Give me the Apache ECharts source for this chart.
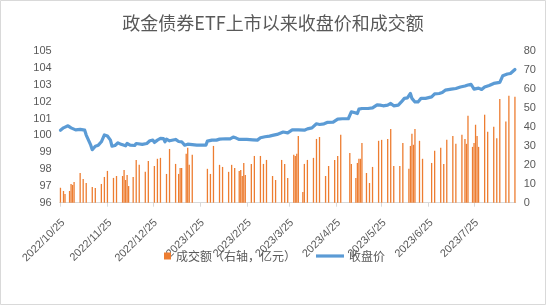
<!DOCTYPE html>
<html><head><meta charset="utf-8">
<script src="https://cdn.jsdelivr.net/npm/echarts@6/dist/echarts.min.js"></script>
<style>html,body{margin:0;padding:0;background:#fff}#c{width:546px;height:305px}</style>
</head><body><div id="c"></div>
<script>
const titleText = '政金债券ETF上市以来收盘价和成交额';
const volumeName = '成交额（右轴，亿元）';
const priceName = '收盘价';
const axisStart = [2022, 10, 25];
const axisDays = 301;
const xTickLabels = ['2022/10/25','2022/11/25','2022/12/25','2023/1/25','2023/2/25','2023/3/25','2023/4/25','2023/5/25','2023/6/25','2023/7/25'];
const leftTicks = { min: 96, max: 105, interval: 1 };
const rightTicks = { min: 0, max: 80, interval: 10 };

const volumeDates = ['2022/10/25','2022/10/27','2022/10/28','2022/10/31','2022/11/1','2022/11/2','2022/11/3','2022/11/7','2022/11/9','2022/11/11','2022/11/15','2022/11/17','2022/11/21','2022/11/23','2022/11/25','2022/11/29','2022/12/1','2022/12/5','2022/12/6','2022/12/7','2022/12/8','2022/12/9','2022/12/12','2022/12/14','2022/12/16','2022/12/20','2022/12/22','2022/12/26','2022/12/28','2022/12/30','2023/1/3','2023/1/5','2023/1/9','2023/1/11','2023/1/12','2023/1/13','2023/1/16','2023/1/17','2023/1/18','2023/1/20','2023/1/30','2023/2/1','2023/2/3','2023/2/7','2023/2/9','2023/2/13','2023/2/15','2023/2/17','2023/2/20','2023/2/21','2023/2/22','2023/2/23','2023/2/24','2023/2/28','2023/3/2','2023/3/6','2023/3/8','2023/3/10','2023/3/14','2023/3/16','2023/3/20','2023/3/22','2023/3/24','2023/3/28','2023/3/29','2023/3/30','2023/3/31','2023/4/3','2023/4/4','2023/4/6','2023/4/10','2023/4/12','2023/4/14','2023/4/18','2023/4/20','2023/4/24','2023/4/26','2023/4/28','2023/5/4','2023/5/5','2023/5/8','2023/5/9','2023/5/10','2023/5/11','2023/5/12','2023/5/15','2023/5/17','2023/5/19','2023/5/23','2023/5/25','2023/5/29','2023/5/31','2023/6/2','2023/6/6','2023/6/8','2023/6/12','2023/6/13','2023/6/14','2023/6/15','2023/6/16','2023/6/19','2023/6/21','2023/6/27','2023/6/29','2023/7/3','2023/7/5','2023/7/7','2023/7/11','2023/7/13','2023/7/17','2023/7/19','2023/7/20','2023/7/21','2023/7/24','2023/7/25','2023/7/26','2023/7/27','2023/7/28','2023/8/1','2023/8/3','2023/8/7','2023/8/9','2023/8/11','2023/8/15','2023/8/17','2023/8/21'];
const volumeValues = [7.9,6.2,4.6,6.2,9.9,9.4,11,15.7,12.5,10.4,8.3,7.8,9.9,13.6,16.8,13.1,14.1,14.1,17.3,12.0,14.7,8.8,13.6,22.6,20,16.3,22,19.4,23.2,23.7,15.2,28.4,20.5,15.2,18.4,18.4,25.8,29,20,25.3,17.9,15.2,30,20,18.9,16.3,20,18.4,16.8,17.3,14.1,21,14.7,20.5,24.7,24.7,20.5,22.6,14.1,12.0,22.6,20.5,13.1,25.3,24.7,25.8,35.3,5.7,20.5,22.6,23.7,33.7,34.7,14.1,19.4,22.6,24.7,35.9,26.3,20.5,13.1,21,23.2,23.2,31.6,15.7,10.4,18.9,32.7,33.2,33.7,39,19.4,19.4,31.6,17.9,30,36.4,30.6,39,32.7,23.2,21,27.4,29,20.5,33.2,35.3,31.1,35.9,33.7,31.1,45.9,29.5,31.6,41.2,35.3,29.5,46.5,37.5,40.1,34.1,54.8,42.9,56.5,56];

const priceDates = ['2022/10/25','2022/10/27','2022/10/30','2022/11/1','2022/11/4','2022/11/7','2022/11/10','2022/11/11','2022/11/12','2022/11/14','2022/11/15','2022/11/17','2022/11/19','2022/11/21','2022/11/23','2022/11/25','2022/11/27','2022/11/28','2022/11/30','2022/12/2','2022/12/4','2022/12/7','2022/12/8','2022/12/10','2022/12/13','2022/12/14','2022/12/15','2022/12/18','2022/12/19','2022/12/21','2022/12/23','2022/12/25','2022/12/26','2022/12/28','2022/12/30','2023/1/1','2023/1/2','2023/1/3','2023/1/5','2023/1/6','2023/1/9','2023/1/11','2023/1/13','2023/1/14','2023/1/15','2023/1/17','2023/1/18','2023/1/23','2023/1/29','2023/1/30','2023/2/2','2023/2/5','2023/2/7','2023/2/11','2023/2/14','2023/2/16','2023/2/18','2023/2/20','2023/2/25','2023/3/1','2023/3/4','2023/3/6','2023/3/9','2023/3/12','2023/3/14','2023/3/17','2023/3/21','2023/3/24','2023/3/27','2023/3/31','2023/4/4','2023/4/6','2023/4/9','2023/4/12','2023/4/14','2023/4/17','2023/4/19','2023/4/23','2023/4/26','2023/4/29','2023/5/3','2023/5/5','2023/5/7','2023/5/9','2023/5/10','2023/5/12','2023/5/16','2023/5/19','2023/5/22','2023/5/24','2023/5/26','2023/5/29','2023/5/31','2023/6/2','2023/6/5','2023/6/7','2023/6/9','2023/6/11','2023/6/13','2023/6/14','2023/6/16','2023/6/18','2023/6/20','2023/6/23','2023/6/27','2023/6/29','2023/7/2','2023/7/4','2023/7/6','2023/7/10','2023/7/13','2023/7/16','2023/7/19','2023/7/21','2023/7/23','2023/7/25','2023/7/26','2023/7/28','2023/7/30','2023/8/1','2023/8/4','2023/8/7','2023/8/11','2023/8/13','2023/8/16','2023/8/18','2023/8/21'];
const priceValues = [100.31,100.45,100.57,100.45,100.33,100.36,100.31,100.02,99.96,99.42,99.15,99.36,99.42,99.62,100.03,99.96,99.72,99.36,99.40,99.56,99.47,99.38,99.52,99.42,99.40,99.52,99.42,99.47,99.58,99.52,99.68,99.72,99.58,99.72,99.82,99.81,99.62,99.78,99.68,99.66,99.76,99.64,99.62,99.56,99.42,99.48,99.42,99.42,99.42,99.66,99.72,99.72,99.78,99.80,99.80,99.90,99.84,99.76,99.76,99.74,99.72,99.86,99.92,99.96,100.00,100.06,100.20,100.15,100.33,100.33,100.31,100.39,100.45,100.69,100.65,100.69,100.77,100.79,100.97,100.99,100.99,101.40,101.36,101.30,101.56,101.60,101.60,101.64,101.82,101.80,101.76,101.80,101.90,101.76,101.80,101.99,102.20,102.23,102.49,102.20,101.99,101.99,102.20,102.20,102.29,102.47,102.49,102.55,102.69,102.75,102.79,102.88,102.94,103.00,103.04,102.75,102.85,102.81,102.73,102.88,102.97,103.09,103.15,103.55,103.65,103.68,103.92];

// calendar-day category axis (Excel-style date axis)
const categories = [];
{
  const d0 = new Date(axisStart[0], axisStart[1] - 1, axisStart[2]);
  for (let i = 0; i < axisDays; i++) {
    const d = new Date(d0.getFullYear(), d0.getMonth(), d0.getDate() + i);
    categories.push(d.getFullYear() + '/' + (d.getMonth() + 1) + '/' + d.getDate());
  }
}
const volumeSeries = categories.map(() => null);
volumeDates.forEach((d, i) => { volumeSeries[categories.indexOf(d)] = volumeValues[i]; });
const priceSeries = categories.map(() => null);
priceDates.forEach((d, i) => { priceSeries[categories.indexOf(d)] = priceValues[i]; });
const isTick = (idx, val) => xTickLabels.indexOf(val) >= 0;

const txt = '#595959';
const latin = 'Liberation Sans';
const cjk = 'Noto Sans CJK SC';

const chart = echarts.init(document.getElementById('c'), null, { renderer: 'canvas' });
chart.setOption({
  animation: false,
  backgroundColor: '#ffffff',
  graphic: [{ type: 'rect', silent: true, shape: { x: 0.5, y: 0.5, width: 545, height: 304 }, style: { fill: 'none', stroke: '#d9d9d9', lineWidth: 1 } }],
  title: {
    text: titleText, left: 'center', top: 9,
    textStyle: { fontFamily: cjk, fontSize: 18, fontWeight: 'normal', color: txt }
  },
  legend: [
    { data: [{ name: volumeName, icon: 'rect' }], left: 164, top: 250, padding: 0, itemWidth: 7, itemHeight: 7, itemGap: 0,
      textStyle: { fontFamily: cjk, fontSize: 12, color: txt } },
    { data: [{ name: priceName, icon: 'path://M0,0H28V3.2H0Z' }], left: 316, top: 250, padding: 0, itemWidth: 28, itemHeight: 3.2, itemGap: 0,
      textStyle: { fontFamily: cjk, fontSize: 12, color: txt } }
  ],
  grid: { left: 59.7, right: 30.3, top: 51.3, bottom: 102.3, containLabel: false },
  xAxis: {
    type: 'category', data: categories, boundaryGap: true,
    axisLine: { show: true, lineStyle: { color: '#d9d9d9', width: 1 } },
    axisTick: { show: true, alignWithLabel: true, interval: isTick, length: 4, lineStyle: { color: '#d9d9d9' } },
    axisLabel: { interval: isTick, rotate: 45, margin: 15.5, verticalAlign: 'top', lineHeight: 8, fontSize: 11, fontFamily: latin, color: txt },
    splitLine: { show: false }
  },
  yAxis: [
    { type: 'value', min: leftTicks.min, max: leftTicks.max, interval: leftTicks.interval, position: 'left',
      axisLine: { show: false }, axisTick: { show: false }, splitLine: { show: false },
      axisLabel: { fontSize: 11, fontFamily: latin, color: txt, margin: 8 } },
    { type: 'value', min: rightTicks.min, max: rightTicks.max, interval: rightTicks.interval, position: 'right',
      axisLine: { show: false }, axisTick: { show: false }, splitLine: { show: false },
      axisLabel: { fontSize: 11, fontFamily: latin, color: txt, margin: 8 } }
  ],
  series: [
    { name: volumeName, type: 'bar', yAxisIndex: 1, data: volumeSeries, barWidth: 1.3,
      itemStyle: { color: '#ed7d31' }, z: 2 },
    { name: priceName, type: 'line', yAxisIndex: 0, data: priceSeries, connectNulls: true,
      showSymbol: false, symbol: 'none',
      lineStyle: { color: '#5b9bd5', width: 3.2, cap: 'round', join: 'round' },
      itemStyle: { color: '#5b9bd5' }, z: 3 }
  ]
});
</script>
</body></html>
